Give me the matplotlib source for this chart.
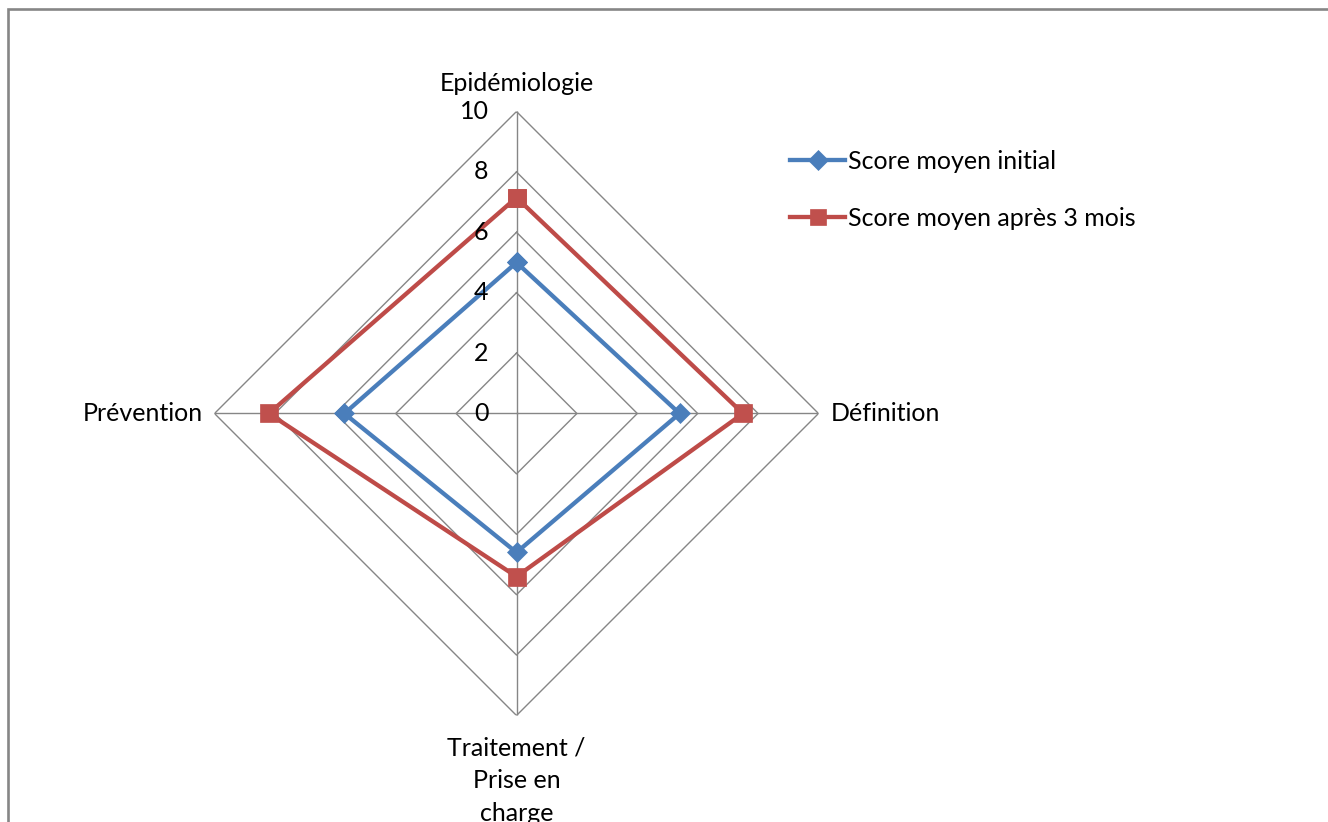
import numpy as np
import matplotlib
matplotlib.use("Agg")
import matplotlib.pyplot as plt
from matplotlib.lines import Line2D
from matplotlib.patches import Rectangle
from matplotlib.transforms import offset_copy

# ---------------------------------------------------------------------------
# Data
# ---------------------------------------------------------------------------

CATEGORIES = ["Epidémiologie", "Définition", "Traitement /\nPrise en\ncharge", "Prévention"]
SCORE_INITIAL = [5.0, 5.4, 4.6, 5.7]
SCORE_3_MOIS = [7.15, 7.5, 5.4, 8.2]
SERIES_NAMES = ["Score moyen initial", "Score moyen après 3 mois"]
GRID_LEVELS = [2, 4, 6, 8, 10]
TICK_VALUES = [0, 2, 4, 6, 8, 10]

BLUE = "#4A7EBB"
RED = "#BE4B48"
GRID = "#868686"
FONT = "Lato"
FS = 18
LW = 3.1

plt.rcParams["font.family"] = [FONT, "DejaVu Sans"]

W, H = 1328, 822
fig = plt.figure(figsize=(W / 100, H / 100), dpi=100)

# chart area frame (open on the right / bottom)
fig.patches.append(Rectangle((8 / W, -0.1), 1.2, 1 - 9 / H + 0.1,
                             transform=fig.transFigure, fill=False,
                             edgecolor=GRID, lw=1.9))

cx, cy, rad = 516.5, 413.5, 302
ax = fig.add_axes([(cx - rad) / W, (H - cy - rad) / H, 2 * rad / W, 2 * rad / H],
                  projection="polar")
ax.set_theta_offset(np.pi / 2)
ax.set_theta_direction(-1)
ax.set_ylim(0, 10)
ax.grid(False)
ax.spines["polar"].set_visible(False)
ax.set_xticks([])
ax.set_yticks([])
ax.patch.set_visible(False)

n = len(CATEGORIES)
angles = np.arange(n) * 2 * np.pi / n
closed = np.append(angles, angles[0])

# polygon grid + spokes
for lvl in GRID_LEVELS:
    ax.plot(closed, [lvl] * (n + 1), color=GRID, lw=1.0, zorder=1)
for a in angles:
    ax.plot([a, a], [0, GRID_LEVELS[-1]], color=GRID, lw=1.0, zorder=1)

# radial value labels, left of the vertical spoke
lab_tr = offset_copy(ax.transData, fig=fig, x=-28, y=0, units="dots")
for v in TICK_VALUES:
    ax.text(0, v, str(v), transform=lab_tr, ha="right", va="center",
            fontsize=FS, color="black", zorder=5)

# category labels
for a, lab in zip(angles, CATEGORIES):
    s, c = np.sin(a), np.cos(a)
    ha = "center" if abs(s) < 0.1 else ("left" if s > 0 else "right")
    va = "center" if abs(c) < 0.1 else ("bottom" if c > 0 else "top")
    if va == "bottom":
        r = 10.55
    elif va == "top":
        r = 10.7
    else:
        r = 10.4
    ax.text(a, r, lab, ha=ha, va=va, fontsize=FS, linespacing=1.5,
            multialignment="center")

# series
v1 = np.append(SCORE_INITIAL, SCORE_INITIAL[0])
v2 = np.append(SCORE_3_MOIS, SCORE_3_MOIS[0])
ax.plot(closed, v1, color=BLUE, lw=LW, marker="D", markersize=10,
        markerfacecolor=BLUE, markeredgecolor=BLUE, markeredgewidth=0.5,
        zorder=3, clip_on=False)
ax.plot(closed, v2, color=RED, lw=LW, marker="s", markersize=13.5,
        markerfacecolor="#C0504D", markeredgecolor="#C0504D", markeredgewidth=0.5,
        zorder=4, clip_on=False)

handles = [
    Line2D([], [], color=BLUE, lw=LW, marker="D", markersize=10, markeredgewidth=0.5),
    Line2D([], [], color=RED, lw=LW, marker="s", markersize=12,
           markerfacecolor="#C0504D", markeredgecolor="#C0504D", markeredgewidth=0.5),
]
fig.legend(handles, SERIES_NAMES, loc="upper left",
           bbox_to_anchor=(790 / W, 1 - 150 / H), frameon=False,
           fontsize=FS, handlelength=2.2, handletextpad=0.12, labelspacing=1.36,
           borderaxespad=0, borderpad=0)

fig.savefig("out.png", dpi=100, facecolor="white")
